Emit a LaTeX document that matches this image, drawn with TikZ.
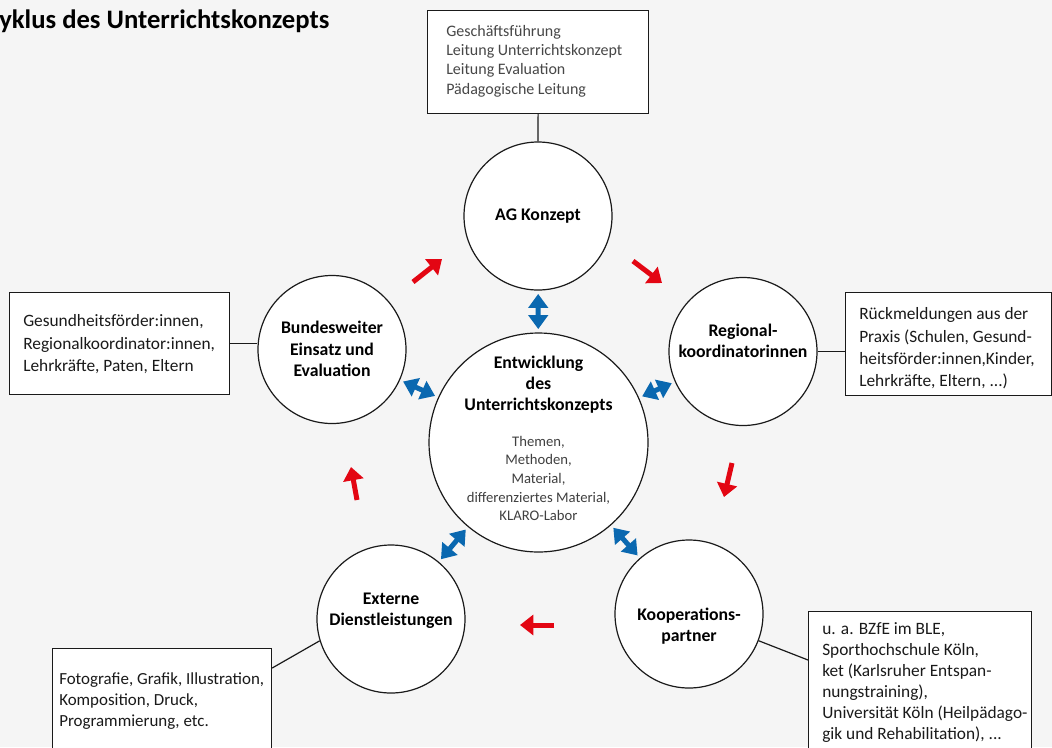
\documentclass[tikz,border=0pt]{standalone}
\usepackage{fontspec}
\setmainfont{Carlito}
\usetikzlibrary{arrows.meta,calc}
\definecolor{bg}{HTML}{F5F5F5}
\definecolor{cred}{HTML}{E30613}
\definecolor{cblue}{HTML}{0A68B0}
\definecolor{ink}{HTML}{1A1A1A}
\begin{document}
\begin{tikzpicture}[x=0.75pt,y=-0.75pt,
  circ/.style={circle,draw=ink,line width=0.9pt,fill=white,inner sep=0pt,minimum size=111pt},
  bigc/.style={circ,minimum size=164.25pt},
  frame/.style={draw=ink,line width=0.9pt,fill=white,anchor=north west,inner sep=0pt},
  btxt/.style={align=center,font=\fontsize{13.3}{16}\selectfont\bfseries,inner sep=0pt},
  stxt/.style={align=center,font=\fontsize{11}{14}\selectfont,text=black!75,inner sep=0pt},
  boxtxt/.style={anchor=west,align=left,inner sep=0pt,font=\fontsize{13}{16.75}\selectfont,text=ink},
  link/.style={line width=0.9pt,draw=ink},
  redarr/.style={draw=cred,line width=3.75pt,-{Triangle[length=10pt,width=15pt]}},
  bluearr/.style={draw=cblue,line width=3.75pt,{Triangle[length=10.5pt,width=14.5pt]}-{Triangle[length=10.5pt,width=14.5pt]},shorten <=2.5pt,shorten >=2.5pt}
]
\fill[bg] (0,0) rectangle (1052,747);
\useasboundingbox (0,0) rectangle (1052,747);

% title
\node[anchor=base west,inner sep=0pt,font=\fontsize{20}{24}\selectfont\bfseries] (title) at (-1,28) {yklus des Unterrichtskonzepts};

% boxes
\node[frame,minimum width=165.75pt,minimum height=77.25pt] (topbox) at (427,10) {};
\node[frame,minimum width=165pt,minimum height=76.5pt] (leftbox) at (9,292) {};
\node[frame,minimum width=154.5pt,minimum height=77.25pt] (rightbox) at (845,292) {};
\node[frame,minimum width=164.25pt,minimum height=90pt] (blbox) at (52,648) {};
\node[frame,minimum width=167.25pt,minimum height=112.5pt] (brbox) at (808,611) {};

\node[boxtxt,font=\fontsize{12}{14.5}\selectfont,text=black!72] (topboxT) at (446,61) {Geschäftsführung\\Leitung Unterrichtskonzept\\Leitung Evaluation\\Pädagogische Leitung};
\node[boxtxt,font=\fontsize{13}{16.9}\selectfont] (leftboxT) at (23,344.5) {Gesundheitsförder:innen,\\Regionalkoordinator:innen,\\Lehrkräfte, Paten, Eltern};
\node[boxtxt] (rightboxT) at (859,348.5) {Rückmeldungen aus der\\Praxis (Schulen, Gesund-\\heitsförder:innen,Kinder,\\Lehrkräfte, Eltern, ...)};
\node[boxtxt,font=\fontsize{12.7}{15.75}\selectfont] (blboxT) at (59,701) {Fotografie, Grafik, Illustration,\\Komposition, Druck,\\Programmierung, etc.};
\node[boxtxt,font=\fontsize{13}{15.75}\selectfont] (brboxT) at (822,682.5) {u. a. BZfE im BLE,\\Sporthochschule Köln,\\ket (Karlsruher Entspan-\\nungstraining),\\Universität Köln (Heilpädago-\\gik und Rehabilitation), ...};

% circles
\node[circ] (ag) at (538,216) {};
\node[circ] (reg) at (743,351.5) {};
\node[circ] (bund) at (332,349.5) {};
\node[circ] (ext) at (391,619) {};
\node[circ] (koop) at (689,614) {};
\node[bigc] (mid) at (538.5,442.5) {};

\node[btxt] (agT) at (538,216) {AG Konzept};
\node[btxt] (regT) at (743,341) {Regional-\\koordinatorinnen};
\node[btxt] (bundT) at (332,349) {Bundesweiter\\Einsatz und\\Evaluation};
\node[btxt] (extT) at (391,610.5) {Externe\\Dienstleistungen};
\node[btxt] (koopT) at (689,626) {Kooperations-\\partner};
\node[btxt] (midT) at (538.5,384.5) {Entwicklung\\des\\Unterrichtskonzepts};
\node[stxt] (midS) at (538.5,478.5) {Themen,\\Methoden,\\Material,\\differenziertes Material,\\KLARO-Labor};

% links to boxes
\draw[link] (topbox.south) -- (ag.north);
\draw[link] (leftbox.east) -- (leftbox.east -| bund.west);
\draw[link] (reg.east) -- (reg.east -| rightbox.west);
\draw[link] (ext.197) -- ($(blbox.north east)+(0,20)$);
\draw[link] (koop.339) -- ($(brbox.north west)+(0,49)$);

% blue double arrows
\draw[bluearr] (mid) -- (ag);
\draw[bluearr] (mid) -- (bund);
\draw[bluearr] (mid) -- (reg);
\draw[bluearr] (mid) -- (ext);
\draw[bluearr] (mid) -- (koop);

% red cycle arrows
\draw[redarr] (413,282) -- (442,259);
\draw[redarr] (633,261) -- (662,283);
\draw[redarr] (732,463) -- (724,497);
\draw[redarr] (554,625) -- (520,625);
\draw[redarr] (357,500) -- (351,467);
\end{tikzpicture}
\end{document}
